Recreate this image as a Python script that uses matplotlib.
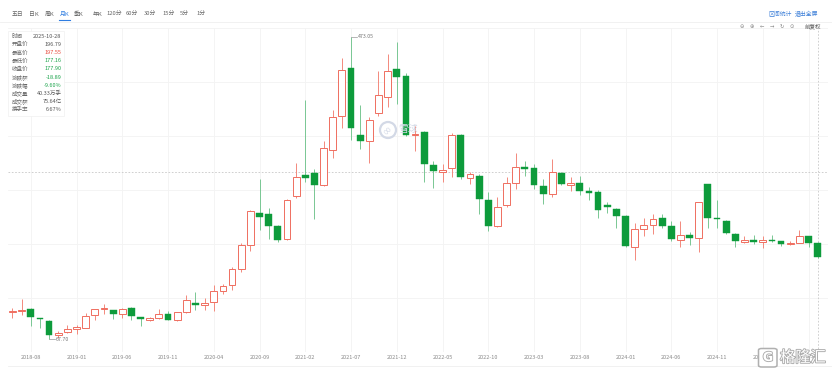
import matplotlib
matplotlib.use("Agg")
import matplotlib.pyplot as plt
import matplotlib.patches as mpatches
from matplotlib.lines import Line2D
import matplotlib.patheffects as pe
import numpy as np
import pandas as pd

plt.rcParams['font.family'] = ['Noto Sans CJK SC', 'DejaVu Sans']

# 月K数据 (2018-06 ~ 2025-10)
months = [str(p) for p in pd.period_range('2018-06', '2025-10', freq='M')]
opens = [104, 105.5, 108.6, 96, 92.8, 73, 78, 82, 83.2, 99.8,
         108, 107, 102, 110.3, 97.6, 94, 96.4, 101.6, 93, 103.7,
         116.8, 114, 118, 132.3, 140, 162, 194, 236.6, 235, 219.1,
         201.6, 259.5, 288, 290.5, 274, 321, 367.4, 431.8, 341.9, 333.2,
         370.4, 392.4, 430.5, 420.8, 341, 345.4, 301.1, 292, 297.1, 341,
         284, 287.1, 254.2, 219.1, 247.6, 277, 298, 297, 273, 262,
         290, 274, 277, 266.5, 265, 247.6, 242, 233.2, 191.9, 215.5,
         221.3, 230.9, 219.1, 200.7, 208, 202.9, 276, 230.5, 226.9, 209.4,
         198, 200, 198.3, 200.7, 199, 195.4, 197, 205.9, 196.79]
highs = [109.5, 121.4, 109, 96.5, 93.5, 78.7, 86.6, 87.5, 103, 108.6,
         114.8, 107.5, 109.5, 111.6, 98, 97.5, 108.6, 105, 104.5, 127,
         131.3, 122.6, 140, 142.4, 164.3, 197.1, 241, 282.6, 243.2, 221.5,
         255.5, 304.6, 387.9, 296, 333.2, 374.8, 445, 473.05, 382.3, 366,
         427.4, 449.4, 465.5, 425, 353, 347, 306.9, 302.4, 344, 342.5,
         291.5, 289, 265.2, 258.6, 284.9, 317.8, 306.9, 302, 282.6, 309,
         292, 285, 287, 271.7, 267.4, 252, 243, 234, 223.4, 230.9,
         235.3, 235.8, 225.7, 225.7, 211, 252, 276, 254.2, 228, 210,
         205.9, 206.9, 205.9, 207, 199.5, 199, 214.8, 206, 197.55]
lows = [96.4, 100.7, 85.3, 83.2, 67.70, 70, 76.5, 74.4, 83, 94,
        101.6, 95, 96.7, 94, 85.3, 92.5, 95.5, 93.5, 92.5, 103,
        107, 107, 106, 128.5, 133.5, 158.5, 186, 214.7, 201.6, 198,
        200.5, 257.5, 278.3, 228.7, 273, 311.2, 350.7, 335.3, 322.1, 304.6,
        367.4, 379.2, 383.6, 340, 320, 278.3, 270.8, 278.3, 284.9, 282.7,
        275.3, 235.8, 212.5, 218, 245.4, 269.5, 287.1, 269.5, 249, 258.6,
        274, 266.5, 260.8, 254, 230, 236.6, 216.5, 191.9, 174.4, 206,
        208.2, 217, 199.4, 191.5, 194, 185.2, 216.9, 216.9, 208.2, 191.9,
        196.7, 195, 190.6, 198, 193, 193.5, 196.5, 191.9, 177.16]
closes = [105.5, 107.5, 97, 95, 73, 75.7, 81.8, 84, 98.4, 108.2,
          109, 102, 108.6, 98.4, 95, 96, 102, 94, 103.7, 120.4,
          113.8, 117, 132.3, 138.8, 162.1, 194.1, 240.1, 232.2, 219.1, 200.7,
          255, 284.9, 284, 274, 324.4, 366, 428.7, 350.7, 333.2, 361.6,
          395.4, 427.4, 419.5, 341.9, 343, 303.3, 292.8, 295, 341.9, 284.9,
          289, 256.3, 219.1, 245.4, 277, 298, 296, 274, 262.1, 291.5,
          275.3, 277, 266.5, 264.3, 241, 244.5, 233.1, 192.8, 215.5, 220.4,
          229.3, 219.1, 201.6, 206.9, 203.7, 252, 230, 228.5, 210.3, 199.4,
          200.3, 198.6, 200.3, 199, 195.4, 197, 205.9, 196.5, 177.90]

info_labels = ["时间", "开盘价", "最高价", "最低价", "收盘价", "涨跌额", "涨跌幅", "成交量", "成交额", "换手率"]
info_values = ["2025-10-28", "196.79", "197.55", "177.16", "177.90", "-18.89", "-9.60%", "40.33万手", "75.64亿", "6.67%"]
tabs = ["五日", "日K", "周K", "月K", "季K", "年K", "120分", "60分", "30分", "15分", "5分", "1分"]

W, H = 832, 375
RED = "#ef6e60"
RED_WICK = "#f3897c"
GREEN = "#0d9b3b"
GREEN_WICK = "#79c793"


def fx(x):
    return x / W


def fy(y):
    return 1 - y / H


fig = plt.figure(figsize=(W / 100, H / 100), dpi=100)
fig.patch.set_facecolor("white")

# 主图坐标: 像素 8..828 / 28..352
ax = fig.add_axes([fx(8), fy(352), 820 / W, 324 / H])
px_per_unit = 0.76
ytop = 473.05 + 9 / px_per_unit
ybot = 473.05 - 315 / px_per_unit
ax.set_xlim(-0.49, 89.13)
ax.set_ylim(ybot, ytop)
for s in ax.spines.values():
    s.set_visible(False)

idx = np.arange(len(months))
o = np.array(opens)
h = np.array(highs)
l = np.array(lows)
c = np.array(closes)
up = c >= o

# 网格
ax.set_yticks(ytop - np.arange(7) * 55 / px_per_unit)
tick_idx = idx[2::5]
ax.set_xticks(tick_idx)
ax.set_xticklabels([months[i] for i in tick_idx])
ax.tick_params(axis="x", length=0, pad=2.5, labelsize=4, labelcolor="#8a8a8a")
ax.tick_params(axis="y", length=0, labelleft=False)
ax.grid(True, color="#f3f3f3", lw=0.6)
ax.set_axisbelow(True)

# 影线
ax.vlines(idx[up], l[up], h[up], color=RED_WICK, lw=0.7, zorder=2)
ax.vlines(idx[~up], l[~up], h[~up], color=GREEN_WICK, lw=0.7, zorder=2)

# 实体
bw = 0.74
minh = 1.6
body_up = np.maximum(c[up] - o[up], minh)
body_dn = np.maximum(o[~up] - c[~up], minh)
ax.bar(idx[up], body_up, bottom=o[up], width=bw, facecolor="white",
       edgecolor=RED, lw=0.7, zorder=3)
ax.bar(idx[~up], body_dn, bottom=c[~up], width=bw, facecolor=GREEN,
       edgecolor=GREEN, lw=0.3, zorder=3)

# 最高 / 最低 标注
imax = int(np.argmax(h))
imin = int(np.argmin(l))
ax.plot([imax, imax + 0.7], [h[imax], h[imax]], color="#999999", lw=0.5, zorder=4)
ax.text(imax + 0.75, h[imax], f"{h[imax]:.2f}", fontsize=3.8, color="#777777",
        va="center", ha="left", zorder=4)
ax.plot([imin, imin + 0.7], [l[imin], l[imin]], color="#999999", lw=0.5, zorder=4)
ax.text(imin + 0.75, l[imin], f"{l[imin]:.2f}", fontsize=3.8, color="#777777",
        va="center", ha="left", zorder=4)

# 十字光标
ax.axhline(291.5, color="#c8c8c8", lw=0.6, ls=(0, (2, 2)), zorder=1)
ax.axvline(idx[-1], color="#c8c8c8", lw=0.6, ls=(0, (2, 2)), zorder=1)

# 雪球水印
fig.add_artist(mpatches.Ellipse((fx(388), fy(130)), 16 / W, 16 / H,
                                transform=fig.transFigure, facecolor="none",
                                edgecolor="#d3d9e6", lw=1.6, zorder=5))
fig.text(fx(388), fy(130.5), "∞", fontsize=8, color="#d3d9e6", ha="center",
         va="center", family="DejaVu Sans", rotation=45, zorder=5)
fig.text(fx(398), fy(129), "雪球", fontsize=7, color="#d3d9e6", ha="left",
         va="center", zorder=5)

# 顶部工具栏
tab_x = [12, 29, 45, 60, 74, 93, 106, 126, 144, 162, 180, 196]
for t, x in zip(tabs, tab_x):
    col = "#2f7de1" if t == "月K" else "#666666"
    fig.text(fx(x), fy(14.5), t, fontsize=4.2, color=col, ha="left", va="center")
fig.add_artist(Line2D([fx(59), fx(70)], [fy(19.8), fy(19.8)], color="#2f7de1", lw=0.8))
fig.add_artist(Line2D([0, 1], [fy(21.7), fy(21.7)], color="#efefef", lw=0.6))
fig.text(fx(768), fy(14.5), "区间统计", fontsize=4.2, color="#3c7fd8", ha="left", va="center")
fig.text(fx(795), fy(14.5), "退出全屏", fontsize=4.2, color="#3c7fd8", ha="left", va="center")
for x, sym in zip([742, 752, 762, 772, 782, 792], ["⊖", "⊕", "←", "→", "↻", "⊙"]):
    fig.text(fx(x), fy(26.5), sym, fontsize=3.8, color="#888888", ha="center",
             va="center", family="DejaVu Sans")
fig.text(fx(805), fy(26.5), "前复权", fontsize=4, color="#555555", ha="left", va="center")

# 信息面板
fig.add_artist(mpatches.Rectangle((fx(8), fy(116)), 56 / W, 85 / H,
                                  transform=fig.transFigure, facecolor="white",
                                  edgecolor="#f0f0f0", lw=0.5, zorder=4))
val_colors = ["#555555", "#555555", "#e8493b", "#1aa34a", "#1aa34a", "#1aa34a",
              "#1aa34a", "#555555", "#555555", "#555555"]
for i, (lab, val, col) in enumerate(zip(info_labels, info_values, val_colors)):
    y = 36.7 + i * 8.07
    fig.text(fx(11.5), fy(y), lab, fontsize=4, color="#666666", ha="left",
             va="center", zorder=5)
    fig.text(fx(61.5), fy(y), val, fontsize=4, color=col, ha="right",
             va="center", zorder=5)

# 底部分隔线
fig.add_artist(Line2D([fx(8), 1], [fy(366), fy(366)], color="#efefef", lw=0.6))

# 格隆汇水印
stroke = [pe.withStroke(linewidth=1.3, foreground="#ababab")]
fig.add_artist(mpatches.FancyBboxPatch((fx(758.5), fy(367)), 18.5 / W, 18.5 / H,
                                       boxstyle="round,pad=0,rounding_size=0.004",
                                       transform=fig.transFigure, facecolor="white",
                                       edgecolor="#b0b0b0", lw=1.1, zorder=6))
fig.text(fx(768), fy(357.5), "G", fontsize=9, color="white", ha="center",
         va="center", weight="bold", family="DejaVu Sans", path_effects=stroke,
         zorder=7)
fig.text(fx(780), fy(357.5), "格隆汇", fontsize=11, color="white", ha="left",
         va="center", path_effects=stroke, zorder=7)

fig.savefig("out.png", dpi=100, facecolor="white")
